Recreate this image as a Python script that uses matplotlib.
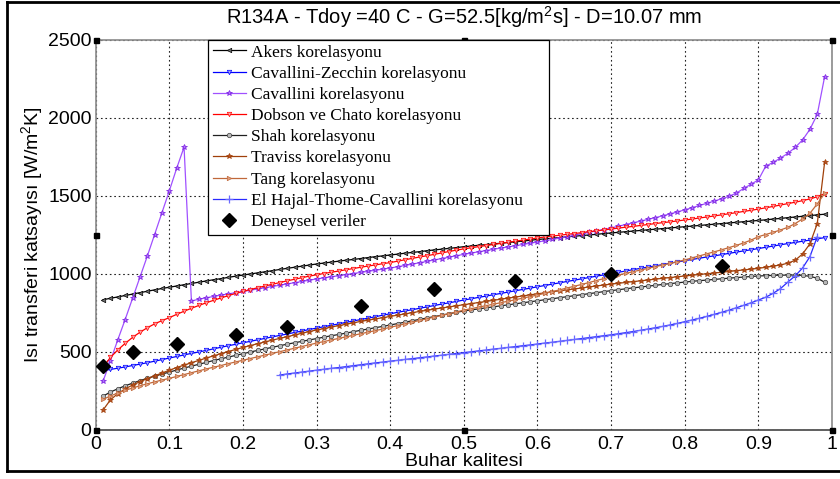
import matplotlib
matplotlib.use("Agg")
import matplotlib.pyplot as plt
from matplotlib.lines import Line2D

plt.rcParams['font.family'] = ['Liberation Sans', 'DejaVu Sans']
plt.rcParams['mathtext.fontset'] = 'custom'
plt.rcParams['mathtext.rm'] = 'Liberation Sans'
plt.rcParams['mathtext.it'] = 'Liberation Sans'
plt.rcParams['mathtext.default'] = 'regular'

# ---------------- data ----------------
quality = [round(0.01 * i, 2) for i in range(1, 100)]          # 0.01 ... 0.99
quality_hajal = [round(0.01 * i, 2) for i in range(25, 99)]    # 0.25 ... 0.98

akers = [832, 841, 850, 859, 868, 877, 886, 895, 904, 912,
         920, 928, 936, 944, 952, 960, 967, 975, 983, 990,
         997, 1004, 1011, 1018, 1026, 1033, 1040, 1047, 1054, 1061,
         1067, 1073, 1079, 1085, 1090, 1096, 1102, 1108, 1113, 1119,
         1124, 1130, 1135, 1140, 1146, 1151, 1156, 1161, 1166, 1172,
         1176, 1181, 1185, 1190, 1194, 1199, 1203, 1208, 1213, 1218,
         1222, 1226, 1230, 1235, 1239, 1243, 1247, 1251, 1256, 1260,
         1264, 1268, 1272, 1276, 1280, 1284, 1288, 1292, 1296, 1300,
         1304, 1308, 1312, 1316, 1320, 1324, 1328, 1332, 1336, 1340,
         1344, 1349, 1353, 1358, 1362, 1367, 1371, 1376, 1380]

cavallini_zecchin = [377, 385, 393, 401, 410, 419, 428, 438, 448, 458,
                     468, 478, 488, 497, 507, 517, 527, 537, 546, 556,
                     565, 575, 584, 594, 603, 612, 622, 631, 641, 650,
                     659, 668, 677, 687, 696, 705, 714, 723, 733, 742,
                     751, 760, 768, 777, 786, 795, 804, 812, 821, 830,
                     838, 847, 855, 864, 872, 881, 889, 898, 906, 915,
                     923, 932, 940, 949, 957, 966, 974, 983, 991, 1000,
                     1008, 1016, 1025, 1033, 1041, 1049, 1057, 1066, 1074, 1082,
                     1090, 1098, 1106, 1113, 1121, 1129, 1137, 1145, 1152, 1160,
                     1168, 1176, 1184, 1192, 1199, 1207, 1214, 1222, 1230]

cavallini = [310, 440, 575, 705, 840, 975, 1110, 1250, 1390, 1530,
             1675, 1810, 824, 835, 844, 853, 861, 869, 877, 885,
             893, 901, 909, 917, 925, 933, 941, 949, 957, 965,
             972, 979, 986, 993, 1000, 1007, 1014, 1021, 1028, 1035,
             1043, 1052, 1060, 1069, 1078, 1087, 1096, 1105, 1114, 1123,
             1131, 1139, 1147, 1155, 1163, 1170, 1178, 1186, 1194, 1202,
             1209, 1218, 1227, 1236, 1245, 1255, 1264, 1273, 1282, 1292,
             1303, 1314, 1325, 1336, 1347, 1358, 1370, 1382, 1395, 1408,
             1422, 1436, 1450, 1464, 1479, 1495, 1515, 1545, 1572, 1600,
             1688, 1712, 1740, 1770, 1808, 1856, 1924, 2020, 2262]

dobson_chato = [400, 462, 510, 552, 590, 623, 652, 677, 698, 717,
                738, 758, 777, 795, 812, 828, 843, 858, 872, 885,
                897, 909, 920, 931, 942, 953, 963, 973, 983, 992,
                1000, 1008, 1016, 1024, 1032, 1040, 1048, 1055, 1063, 1070,
                1079, 1088, 1097, 1106, 1114, 1123, 1132, 1141, 1150, 1158,
                1165, 1172, 1179, 1186, 1193, 1200, 1207, 1214, 1221, 1228,
                1234, 1240, 1245, 1251, 1256, 1262, 1268, 1273, 1279, 1285,
                1291, 1297, 1302, 1308, 1314, 1320, 1326, 1331, 1337, 1343,
                1349, 1356, 1362, 1369, 1376, 1383, 1390, 1398, 1405, 1413,
                1421, 1430, 1439, 1448, 1457, 1467, 1478, 1492, 1512]

shah = [214, 240, 261, 280, 297, 313, 328, 342, 355, 368,
        381, 394, 406, 418, 430, 442, 453, 464, 475, 486,
        497, 507, 517, 527, 537, 547, 556, 565, 574, 583,
        592, 601, 609, 618, 627, 636, 644, 653, 661, 670,
        679, 688, 697, 706, 715, 724, 733, 742, 751, 760,
        767, 773, 780, 786, 793, 799, 806, 812, 819, 825,
        832, 838, 845, 851, 858, 864, 871, 877, 884, 890,
        896, 902, 908, 913, 919, 924, 930, 935, 940, 945,
        950, 954, 958, 962, 966, 970, 974, 977, 981, 984,
        986, 988, 989, 990, 990, 988, 982, 970, 944]

traviss = [125, 190, 230, 260, 285, 306, 326, 344, 362, 380,
           397, 413, 428, 443, 458, 472, 486, 500, 513, 526,
           538, 550, 562, 573, 584, 595, 606, 617, 628, 638,
           647, 657, 666, 675, 684, 693, 701, 709, 717, 725,
           733, 741, 749, 757, 764, 772, 779, 786, 793, 800,
           807, 814, 821, 828, 835, 842, 849, 856, 863, 870,
           876, 883, 889, 895, 901, 907, 914, 920, 926, 932,
           937, 943, 948, 953, 958, 964, 969, 974, 979, 984,
           989, 994, 998, 1003, 1008, 1013, 1018, 1023, 1028, 1033,
           1040, 1047, 1055, 1066, 1085, 1125, 1190, 1320, 1713]

tang = [193, 215, 234, 251, 266, 280, 293, 305, 317, 328,
        340, 352, 364, 376, 388, 399, 410, 422, 433, 444,
        455, 466, 477, 488, 499, 510, 521, 532, 543, 554,
        564, 574, 584, 594, 604, 614, 624, 634, 644, 655,
        666, 677, 688, 699, 710, 721, 732, 743, 754, 765,
        775, 784, 794, 803, 813, 822, 832, 842, 852, 862,
        873, 884, 895, 907, 918, 930, 942, 955, 967, 980,
        991, 1001, 1012, 1022, 1033, 1044, 1054, 1065, 1076, 1087,
        1100, 1113, 1126, 1139, 1152, 1166, 1180, 1196, 1214, 1236,
        1250, 1264, 1279, 1296, 1320, 1350, 1386, 1446, 1514]

el_hajal = [349, 356, 362, 368, 374, 380,
            386, 392, 397, 403, 409, 415, 421, 427, 432, 438,
            443, 449, 454, 460, 465, 471, 476, 482, 487, 493,
            498, 504, 509, 515, 520, 526, 531, 537, 542, 548,
            554, 559, 565, 571, 577, 583, 589, 595, 601, 607,
            614, 621, 628, 636, 644, 652, 661, 670, 680, 691,
            702, 713, 725, 738, 751, 765, 780, 796, 812, 830,
            848, 873, 903, 945, 985, 1035, 1108, 1236]

exp_quality = [0.01, 0.05, 0.11, 0.19, 0.26, 0.36, 0.46, 0.57, 0.70, 0.85]
exp_htc = [405, 500, 550, 605, 655, 790, 900, 950, 1000, 1050]

series_labels = ['Akers korelasyonu', 'Cavallini-Zecchin korelasyonu',
                 'Cavallini korelasyonu', 'Dobson ve Chato korelasyonu',
                 'Shah korelasyonu', 'Traviss korelasyonu', 'Tang korelasyonu',
                 'El Hajal-Thome-Cavallini korelasyonu', 'Deneysel veriler']

xticks = [0, 0.1, 0.2, 0.3, 0.4, 0.5, 0.6, 0.7, 0.8, 0.9, 1.0]
xtick_labels = ['0', '0.1', '0.2', '0.3', '0.4', '0.5', '0.6', '0.7', '0.8', '0.9', '1']
yticks = [0, 500, 1000, 1500, 2000, 2500]
ytick_labels = ['0', '500', '1000', '1500', '2000', '2500']

title = 'R134A - Tdoy =40 C - G=52.5[kg/m$^2$s] - D=10.07 mm'
xlabel = 'Buhar kalitesi'
ylabel = 'Isı transferi katsayısı [W/m$^2$K]'

# ---------------- figure ----------------
W, H = 840, 479
fig = plt.figure(figsize=(W / 100, H / 100), dpi=100)
ax_l, ax_r, ax_t, ax_b = 95.7, 832.0, 39.5, 429.5
ax = fig.add_axes([ax_l / W, 1 - ax_b / H, (ax_r - ax_l) / W, (ax_b - ax_t) / H])

lw = 0.9
ms = 3.2
ax.plot(quality, akers, color='k', lw=lw, marker='<', ms=ms,
        mfc='#707070', mec='k', mew=0.5, label=series_labels[0])
ax.plot(quality, cavallini_zecchin, color='#0000FF', lw=lw, marker='v', ms=ms,
        mfc='#A0A0FF', mec='#0000FF', mew=0.5, label=series_labels[1])
ax.plot(quality, cavallini, color='#A050FF', lw=lw, marker='*', ms=ms + 1,
        mfc='#B070FF', mec='#7A1FE0', mew=0.5, label=series_labels[2])
ax.plot(quality, dobson_chato, color='#FF0000', lw=lw, marker='v', ms=ms,
        mfc='#FFA0A0', mec='#FF0000', mew=0.5, label=series_labels[3])
ax.plot(quality, shah, color='#202020', lw=lw, marker='o', ms=ms,
        mfc='#B8B8B8', mec='#404040', mew=0.5, label=series_labels[4])
ax.plot(quality, traviss, color='#A0400A', lw=lw, marker='*', ms=ms + 1,
        mfc='#B85020', mec='#A0400A', mew=0.5, label=series_labels[5])
ax.plot(quality, tang, color='#C0683A', lw=lw, marker='>', ms=ms,
        mfc='#E0A080', mec='#C0683A', mew=0.5, label=series_labels[6])
ax.plot(quality_hajal, el_hajal, color='#2A2AFF', lw=lw, marker='+', ms=ms + 2,
        mec='#6A6AFF', mew=0.9, label=series_labels[7])
ax.plot(exp_quality, exp_htc, linestyle='none', marker='D', ms=7.5,
        color='k', label=series_labels[8], zorder=5)

ax.set_xlim(0, 1)
ax.set_ylim(0, 2500)
ax.set_xticks(xticks)
ax.set_xticklabels(xtick_labels)
ax.set_yticks(yticks)
ax.set_yticklabels(ytick_labels)
ax.tick_params(axis='both', labelsize=14, direction='in', length=0)
ax.tick_params(axis='x', pad=5)
ax.tick_params(axis='y', pad=3)
ax.grid(True, linestyle=(0, (1.5, 2.5)), color='#222222', lw=0.8)
ax.set_axisbelow(True)
for side in ['left', 'top', 'right']:
    ax.spines[side].set_color('#8a8a8a')
    ax.spines[side].set_linewidth(1.2)
ax.spines['bottom'].set_color('#444444')
ax.spines['bottom'].set_linewidth(1.2)

# selection handles (MATLAB edit mode look)
hx = [0, 0.5, 1, 0, 1, 0, 0.5, 1]
hy = [0, 0, 0, 0.5, 0.5, 1, 1, 1]
ax.plot(hx, hy, linestyle='none', marker='s', ms=3.6, color='k',
        transform=ax.transAxes, clip_on=False, zorder=20)

leg_x0 = (208 - ax_l) / (ax_r - ax_l)
leg_w = (549 - 208) / (ax_r - ax_l)
leg = ax.legend(loc='upper left', bbox_to_anchor=(leg_x0, 0.0, leg_w, 1.0),
                mode='expand', borderaxespad=0, frameon=True, fancybox=False,
                framealpha=1, edgecolor='k',
                prop={'family': 'Liberation Serif', 'size': 12.5},
                handlelength=1.9, handletextpad=0.3, labelspacing=0.29,
                borderpad=0.28, numpoints=1)
leg.get_frame().set_linewidth(0.9)
leg.set_zorder(30)

fig.text(463.9 / W, 1 - 17 / H, title, ha='center', va='center', fontsize=14.5)
fig.text(463.9 / W, 1 - 462 / H, xlabel, ha='center', va='center', fontsize=14)
fig.text(32 / W, 1 - 234.5 / H, ylabel, ha='center', va='center', fontsize=14,
         rotation=90)

# outer frame
fig.add_artist(Line2D([7 / W, 7 / W], [1 - 1.5 / H, 1 - 471 / H], color='k', lw=2,
                      transform=fig.transFigure))
fig.add_artist(Line2D([7 / W, 1], [1 - 1.5 / H, 1 - 1.5 / H], color='k', lw=2,
                      transform=fig.transFigure))
fig.add_artist(Line2D([7 / W, 1], [1 - 471 / H, 1 - 471 / H], color='k', lw=2,
                      transform=fig.transFigure))

fig.savefig('out.png', dpi=100)
